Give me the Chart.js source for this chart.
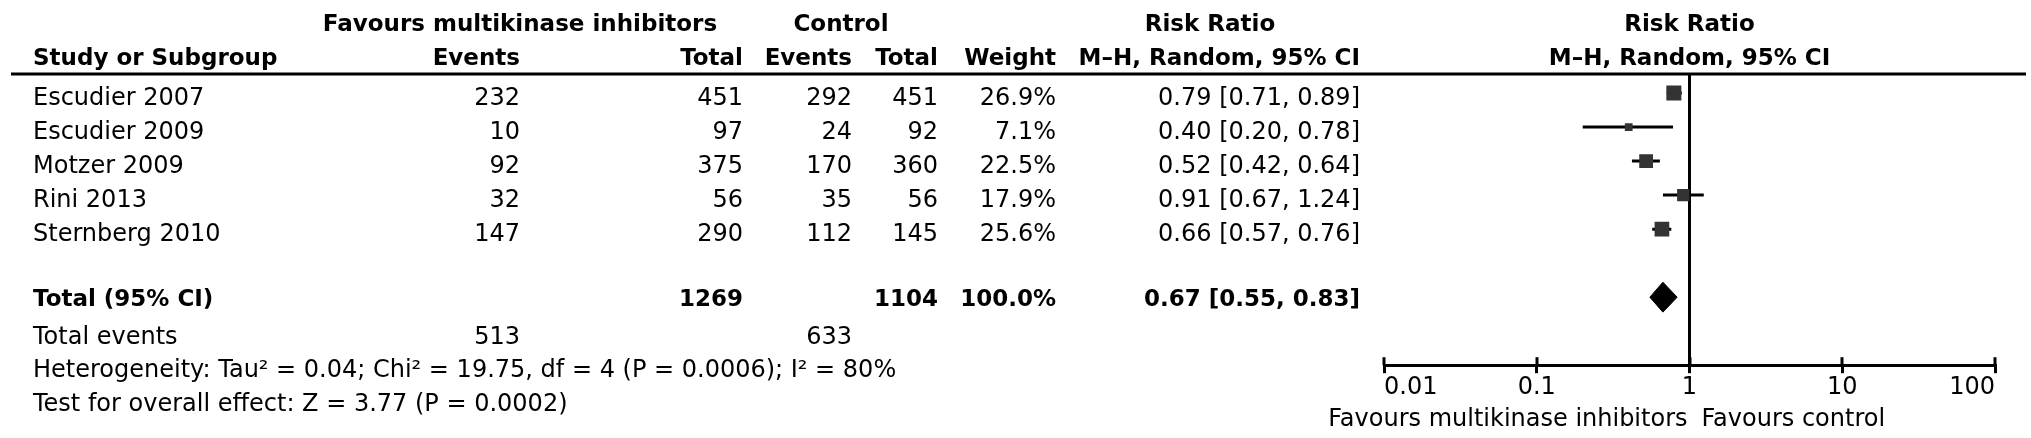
<!DOCTYPE html>
<html lang="en">
<head>
    <meta charset="UTF-8">
    <title>Forest plot - multikinase inhibitors vs control</title>
    <script src="https://cdn.jsdelivr.net/npm/chart.js"></script>
    <style>
        body {
            margin: 0;
            background: #fff;
        }
        #wrap {
            width: 2031px;
            height: 438px;
        }
    </style>
</head>
<body>
    <div id="wrap"><canvas id="forest" width="2031" height="438"></canvas></div>

    <script>
        // study rows
        const studies = ['Escudier 2007', 'Escudier 2009', 'Motzer 2009', 'Rini 2013', 'Sternberg 2010'];
        const expEvents = [232, 10, 92, 32, 147];
        const expTotal = [451, 97, 375, 56, 290];
        const ctrlEvents = [292, 24, 170, 35, 112];
        const ctrlTotal = [451, 92, 360, 56, 145];
        const weights = [26.9, 7.1, 22.5, 17.9, 25.6];
        const riskRatio = [0.79, 0.40, 0.52, 0.91, 0.66];
        const ciLow = [0.71, 0.20, 0.42, 0.67, 0.57];
        const ciHigh = [0.89, 0.78, 0.64, 1.24, 0.76];

        // pooled result
        const totalLabel = 'Total (95% CI)';
        const totalExp = 1269;
        const totalCtrl = 1104;
        const totalWeight = 100.0;
        const pooledRR = 0.67;
        const pooledLow = 0.55;
        const pooledHigh = 0.83;
        const totalEventsExp = 513;
        const totalEventsCtrl = 633;
        const heterogeneity = 'Heterogeneity: Tau\u00b2 = 0.04; Chi\u00b2 = 19.75, df = 4 (P = 0.0006); I\u00b2 = 80%';
        const overallEffect = 'Test for overall effect: Z = 3.77 (P = 0.0002)';

        // x axis
        const tickValues = [0.01, 0.1, 1, 10, 100];
        const tickLabels = ['0.01', '0.1', '1', '10', '100'];
        const favoursLeft = 'Favours multikinase inhibitors';
        const favoursRight = 'Favours control';

        const totalRow = 6;     // blank row between studies and total
        const Y_MIN = -0.56;
        const Y_MAX = 8;

        const FONT = '"DejaVu Sans", sans-serif';
        const MARK = '#333333';

        function fmt(v) { return v.toFixed(2); }
        function ciText(r, lo, hi) { return fmt(r) + ' [' + fmt(lo) + ', ' + fmt(hi) + ']'; }

        // draw one line of text, y is the middle of the capitals
        function put(ctx, str, x, y, align, bold) {
            ctx.font = (bold ? 'bold 23px ' : '24px ') + FONT;
            ctx.textAlign = align;
            ctx.textBaseline = 'alphabetic';
            ctx.fillStyle = '#000';
            ctx.fillText(str, x, y + (bold ? 8.4 : 8.7));
        }

        // table columns (right edges, except the study name)
        const col = { study: 33, expEv: 520, expTot: 743, ctrlEv: 852, ctrlTot: 938, weight: 1056, rr: 1360 };

        const tablePlugin = {
            id: 'forestTable',
            afterDraw(chart) {
                const ctx = chart.ctx;
                const xs = chart.scales.x;
                const ys = chart.scales.y;
                const area = chart.chartArea;
                const x1 = xs.getPixelForValue(1);
                const row = v => ys.getPixelForValue(v);

                ctx.save();
                // rule under the headings
                ctx.strokeStyle = '#000';
                ctx.lineWidth = 3;
                ctx.beginPath();
                ctx.moveTo(11, area.top);
                ctx.lineTo(2026, area.top);
                ctx.stroke();

                // upper half of the axis ticks
                ctx.lineWidth = 3;
                xs.ticks.forEach(t => {
                    const px = Math.round(xs.getPixelForValue(t.value));
                    ctx.beginPath();
                    ctx.moveTo(px, area.bottom - 8);
                    ctx.lineTo(px, area.bottom);
                    ctx.stroke();
                });

                // headings
                const h1 = row(-2.06), h2 = row(-1.06);
                put(ctx, 'Favours multikinase inhibitors', 520, h1, 'center', true);
                put(ctx, 'Control', 841, h1, 'center', true);
                put(ctx, 'Risk Ratio', 1210, h1, 'center', true);
                put(ctx, 'Risk Ratio', x1, h1, 'center', true);
                put(ctx, 'Study or Subgroup', col.study, h2, 'left', true);
                put(ctx, 'Events', col.expEv, h2, 'right', true);
                put(ctx, 'Total', col.expTot, h2, 'right', true);
                put(ctx, 'Events', col.ctrlEv, h2, 'right', true);
                put(ctx, 'Total', col.ctrlTot, h2, 'right', true);
                put(ctx, 'Weight', col.weight, h2, 'right', true);
                put(ctx, 'M\u2013H, Random, 95% CI', col.rr, h2, 'right', true);
                put(ctx, 'M\u2013H, Random, 95% CI', x1, h2, 'center', true);

                // study rows
                studies.forEach((s, i) => {
                    const y = row(i) + 3;
                    put(ctx, s, col.study, y, 'left');
                    put(ctx, String(expEvents[i]), col.expEv, y, 'right');
                    put(ctx, String(expTotal[i]), col.expTot, y, 'right');
                    put(ctx, String(ctrlEvents[i]), col.ctrlEv, y, 'right');
                    put(ctx, String(ctrlTotal[i]), col.ctrlTot, y, 'right');
                    put(ctx, weights[i].toFixed(1) + '%', col.weight, y, 'right');
                    put(ctx, ciText(riskRatio[i], ciLow[i], ciHigh[i]), col.rr, y, 'right');
                });

                // total row
                const yt = row(totalRow);
                put(ctx, totalLabel, col.study, yt, 'left', true);
                put(ctx, String(totalExp), col.expTot, yt, 'right', true);
                put(ctx, String(totalCtrl), col.ctrlTot, yt, 'right', true);
                put(ctx, totalWeight.toFixed(1) + '%', col.weight, yt, 'right', true);
                put(ctx, ciText(pooledRR, pooledLow, pooledHigh), col.rr, yt, 'right', true);

                // footer
                const ye = row(7.12);
                put(ctx, 'Total events', col.study, ye, 'left');
                put(ctx, String(totalEventsExp), col.expEv, ye, 'right');
                put(ctx, String(totalEventsCtrl), col.ctrlEv, ye, 'right');
                put(ctx, heterogeneity, col.study, row(8.09), 'left');
                put(ctx, overallEffect, col.study, row(9.09), 'left');

                // favours labels under the axis
                const yf = xs.bottom + 15;
                put(ctx, favoursLeft, x1 - 2, yf, 'right');
                put(ctx, favoursRight, x1 + 12, yf, 'left');
                ctx.restore();
            }
        };

        // datasets: squares on top, then CI lines, diamond, line of no effect
        const datasets = [];

        datasets.push({
            label: 'studies',
            data: studies.map((s, i) => ({ x: riskRatio[i], y: i })),
            pointStyle: 'rect',
            pointRadius: ctx => 2.9 * Math.sqrt(weights[ctx.dataIndex]) / Math.SQRT2,
            backgroundColor: MARK,
            borderColor: MARK,
            borderWidth: 0,
            showLine: false
        });

        studies.forEach((s, i) => {
            datasets.push({
                label: s + ' CI',
                data: [{ x: ciLow[i], y: i }, { x: ciHigh[i], y: i }],
                showLine: true,
                borderColor: '#000',
                borderWidth: 3,
                pointRadius: 0
            });
        });

        const dh = 0.44; // half height of the pooled diamond, in rows
        datasets.push({
            label: 'pooled',
            data: [
                { x: pooledLow, y: totalRow },
                { x: pooledRR, y: totalRow - dh },
                { x: pooledHigh, y: totalRow },
                { x: pooledRR, y: totalRow + dh },
                { x: pooledLow, y: totalRow }
            ],
            showLine: true,
            fill: 'shape',
            backgroundColor: '#000',
            borderColor: '#000',
            borderWidth: 1,
            pointRadius: 0
        });

        datasets.push({
            label: 'no effect',
            data: [{ x: 1, y: Y_MIN }, { x: 1, y: Y_MAX }],
            showLine: true,
            borderColor: '#000',
            borderWidth: 3,
            pointRadius: 0
        });

        new Chart(document.getElementById('forest'), {
            type: 'scatter',
            data: { datasets: datasets },
            options: {
                responsive: false,
                animation: false,
                devicePixelRatio: 1,
                layout: { padding: { left: 1384, right: 36, top: 74, bottom: 36 } },
                plugins: {
                    legend: { display: false },
                    tooltip: { enabled: false }
                },
                scales: {
                    x: {
                        type: 'logarithmic',
                        position: 'bottom',
                        min: 0.01,
                        max: 100,
                        afterBuildTicks: scale => {
                            scale.ticks = tickValues.map(v => ({ value: v }));
                        },
                        ticks: {
                            callback: (v, i) => tickLabels[i],
                            autoSkip: false,
                            maxRotation: 0,
                            align: 'inner',
                            padding: 0,
                            color: '#000',
                            font: { family: FONT, size: 24 }
                        },
                        grid: {
                            drawOnChartArea: false,
                            drawTicks: true,
                            tickLength: 8,
                            color: '#000',
                            lineWidth: 3
                        },
                        border: { display: true, color: '#000', width: 3 }
                    },
                    y: {
                        type: 'linear',
                        reverse: true,
                        min: Y_MIN,
                        max: Y_MAX,
                        display: false
                    }
                }
            },
            plugins: [tablePlugin]
        });
    </script>
</body>
</html>
